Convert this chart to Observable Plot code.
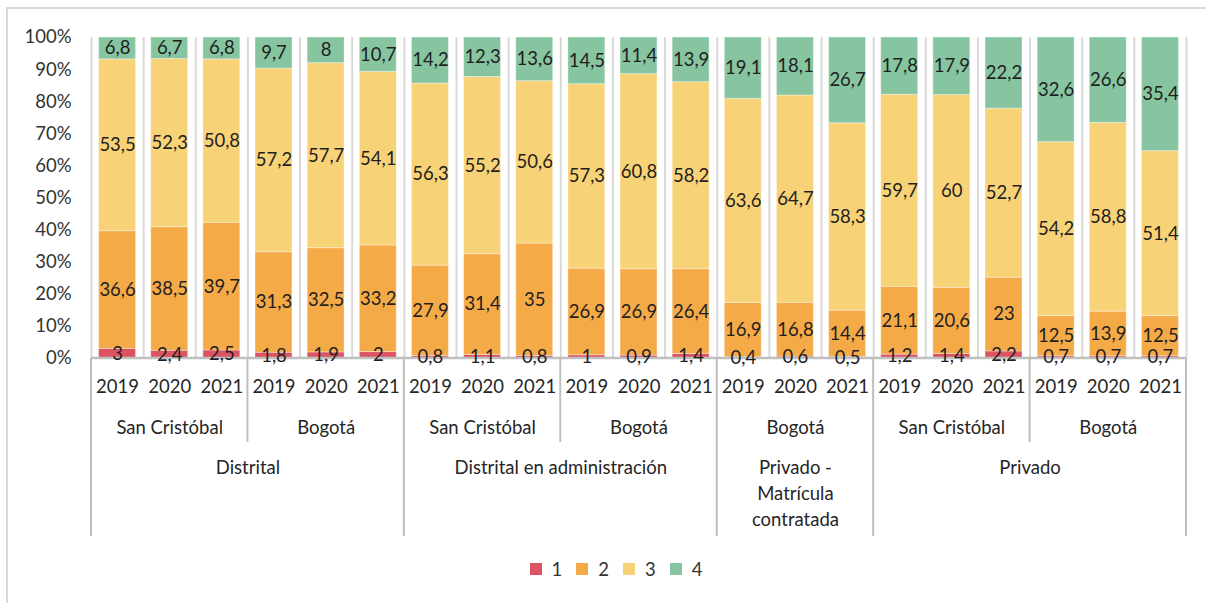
<!DOCTYPE html>
<html>
<head>
<meta charset="utf-8">
<script src="https://cdn.jsdelivr.net/npm/d3@7"></script>
<script src="https://cdn.jsdelivr.net/npm/@observablehq/plot@0.6"></script>
<style>
  html, body { margin: 0; padding: 0; background: #fff; width: 1206px; height: 603px; overflow: hidden; }
  #frame { position: absolute; left: 6px; top: 7px; width: 1400px; height: 800px; border: 2px solid #d9d9d9; box-sizing: border-box; pointer-events: none; }
  #chart { position: absolute; left: 0; top: 0; }
  #legend { position: absolute; left: 13px; top: 558px; width: 1206px; display: flex; justify-content: center; align-items: center;
            font-family: Lato, "Open Sans", sans-serif; font-weight: 400; font-size: 18.5px; color: #333; }
  .item { display: flex; align-items: center; margin: 0 7px; }
  .sw { width: 12px; height: 12px; margin-right: 10px; }
</style>
</head>
<body>
<div id="chart"></div>
<div id="legend"></div>
<div id="frame"></div>
<script>
// ---- data ----
const years = ["2019", "2020", "2021"];
const sectors = ["Distrital", "Distrital", "Distrital en administración", "Distrital en administración",
                 "Privado - Matrícula contratada", "Privado", "Privado"];
const places = ["San Cristóbal", "Bogotá", "San Cristóbal", "Bogotá", "Bogotá", "San Cristóbal", "Bogotá"];
const levels = ["1", "2", "3", "4"];
const level1 = [3, 2.4, 2.5, 1.8, 1.9, 2, 0.8, 1.1, 0.8, 1, 0.9, 1.4, 0.4, 0.6, 0.5, 1.2, 1.4, 2.2, 0.7, 0.7, 0.7];
const level2 = [36.6, 38.5, 39.7, 31.3, 32.5, 33.2, 27.9, 31.4, 35, 26.9, 26.9, 26.4, 16.9, 16.8, 14.4, 21.1, 20.6, 23, 12.5, 13.9, 12.5];
const level3 = [53.5, 52.3, 50.8, 57.2, 57.7, 54.1, 56.3, 55.2, 50.6, 57.3, 60.8, 58.2, 63.6, 64.7, 58.3, 59.7, 60, 52.7, 54.2, 58.8, 51.4];
const level4 = [6.8, 6.7, 6.8, 9.7, 8, 10.7, 14.2, 12.3, 13.6, 14.5, 11.4, 13.9, 19.1, 18.1, 26.7, 17.8, 17.9, 22.2, 32.6, 26.6, 35.4];
const yTicks = [0, 10, 20, 30, 40, 50, 60, 70, 80, 90, 100];
const colors = ["#dc5361", "#f5aa48", "#f8d277", "#86c5a0"];

// ---- derived tables (100% stacked: normalized by each bar's total) ----
const series = [level1, level2, level3, level4];
const nBars = level1.length;
const segs = [];
for (let i = 0; i < nBars; i++) {
  const total = d3.sum(series, arr => arr[i]);
  let acc = 0;
  series.forEach((arr, k) => {
    const v = arr[i];
    const h = v / total * 100;
    segs.push({i, level: levels[k], y1: acc, y2: acc + h, v});
    acc += h;
  });
}
const yearRows = d3.range(nBars).map(i => ({i, year: years[i % 3]}));
const placeRows = places.map((p, j) => ({start: j * 3, end: j * 3 + 3, label: p}));
const sectorRows = [];
sectors.forEach((s, j) => {
  const last = sectorRows[sectorRows.length - 1];
  if (last && last.label === s) last.end = j * 3 + 3;
  else sectorRows.push({start: j * 3, end: j * 3 + 3, label: s});
});
const wrapLabel = s => s === "Privado - Matrícula contratada" ? "Privado -\nMatrícula\ncontratada" : s;

const font = "Lato, 'Open Sans', sans-serif";
const fmt = v => String(v).replace(".", ",");

const axisLines = (index, scales, values, dim) => {
  const g = d3.create("svg:g");
  const x = scales.x;
  const y0 = dim.height - dim.marginBottom;
  const bounds = new Set([0, nBars]);
  sectorRows.forEach(r => { bounds.add(r.start); bounds.add(r.end); });
  g.append("line").attr("x1", x(0)).attr("x2", x(nBars)).attr("y1", y0).attr("y2", y0)
    .attr("stroke", "#bfbfbf").attr("stroke-width", 2.5);
  placeRows.forEach(r => {
    if (!bounds.has(r.start)) {
      g.append("line").attr("x1", x(r.start)).attr("x2", x(r.start)).attr("y1", y0).attr("y2", y0 + 84)
        .attr("stroke", "#bfbfbf").attr("stroke-width", 2);
    }
  });
  [...bounds].forEach(b => {
    g.append("line").attr("x1", x(b)).attr("x2", x(b)).attr("y1", y0).attr("y2", y0 + 178)
      .attr("stroke", "#bfbfbf").attr("stroke-width", 2);
  });
  return g.node();
};

const chart = Plot.plot({
  width: 1206,
  height: 545,
  marginLeft: 91,
  marginRight: 20,
  marginTop: 37,
  marginBottom: 187,
  style: {fontFamily: font, fontSize: "18.5px", fontWeight: 400, color: "#333", background: "transparent"},
  x: {domain: [0, nBars], axis: null},
  y: {domain: [0, 100], ticks: yTicks, tickFormat: d => d + "%", tickSize: 0, tickPadding: 20, label: null},
  color: {domain: levels, range: colors},
  marks: [
    Plot.ruleX(d3.range(nBars + 1), {x: d => d, stroke: "#d9d9d9", strokeWidth: 2}),
    Plot.rectY(segs, {x1: d => d.i, x2: d => d.i + 1, y1: "y1", y2: "y2", fill: "level",
                      insetLeft: 7.6, insetRight: 7.6, stroke: "#fff", strokeOpacity: 0.35, strokeWidth: 1}),
    axisLines,
    Plot.text(segs, {x: d => d.i + 0.5, y: d => (d.y1 + d.y2) / 2, text: d => fmt(d.v),
                     fill: "#1f1f1f", fontSize: 18.5}),
    Plot.text(yearRows, {x: d => d.i + 0.5, text: "year", frameAnchor: "bottom", lineAnchor: "middle", dy: 29, fill: "#262626"}),
    Plot.text(placeRows, {x: d => (d.start + d.end) / 2, text: "label", frameAnchor: "bottom", lineAnchor: "middle", dy: 70, fill: "#262626"}),
    Plot.text(sectorRows, {x: d => (d.start + d.end) / 2, text: d => wrapLabel(d.label), frameAnchor: "bottom",
                           dy: 97, lineAnchor: "top", lineHeight: 1.4, fill: "#262626"})
  ]
});
document.getElementById("chart").append(chart);

const leg = document.getElementById("legend");
levels.forEach((l, k) => {
  const it = document.createElement("div");
  it.className = "item";
  it.innerHTML = `<div class="sw" style="background:${colors[k]}"></div><span>${l}</span>`;
  leg.append(it);
});
</script>
</body>
</html>
